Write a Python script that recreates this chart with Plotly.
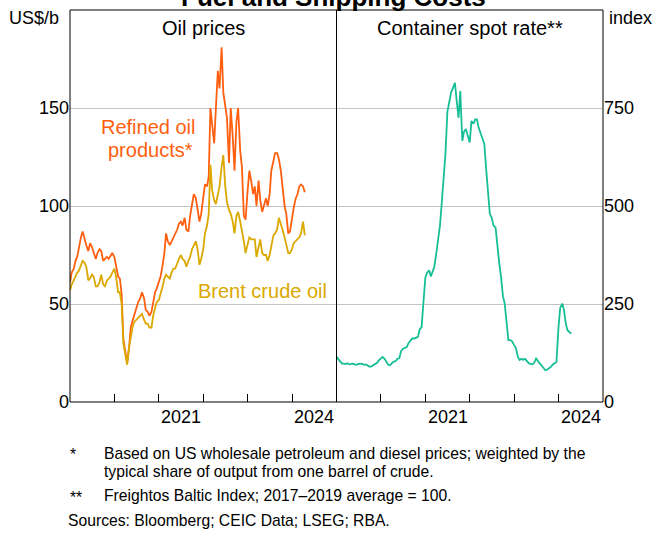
import plotly.graph_objects as go
import pandas as pd

# semi-monthly observation dates (1st and 15th of each month), Jan 2019 - Apr 2024
months = pd.date_range("2019-01-01", "2024-04-01", freq="MS")
dates = []
for m in months:
    dates.append(m)
    dates.append(m + pd.Timedelta(days=14))

refined = [
    # 2019
    61, 66, 68, 72, 74, 79, 84, 87, 83, 80, 77, 81, 79, 76, 73, 76, 78, 77, 72, 73, 74, 73, 75, 76,
    # 2020
    74, 70, 64, 63, 55, 32, 25, 20, 28, 38, 42, 45, 49, 51, 53, 56, 53, 47, 46, 44, 46, 51, 56, 58,
    # 2021
    62, 64, 70, 76, 86, 82, 80, 82, 84, 86, 88, 91, 92, 90, 94, 88, 87, 95, 102, 106, 104, 97, 92, 96,
    # 2022
    103, 111, 110, 115, 150, 140, 132, 150, 169, 160, 181, 158, 150, 145, 122, 150, 135, 118, 143, 150, 128, 120, 95, 93,
    # 2023
    108, 118, 112, 106, 110, 100, 113, 103, 97, 100, 104, 100, 106, 118, 123, 127, 127, 124, 118, 110, 100, 96, 86, 87,
    # 2024
    95, 99, 104, 106, 110, 111, 110, 107,
]

brent = [
    # 2019
    57, 60, 62, 64, 66, 67, 70, 72, 71, 69, 62, 63, 65, 64, 59, 59, 61, 65, 60, 59, 62, 63, 64, 66,
    # 2020
    68, 64, 56, 56, 50, 30, 24, 19, 28, 34, 39, 41, 42, 43, 44, 45, 42, 40, 40, 38, 38, 44, 48, 51,
    # 2021
    52, 55, 59, 63, 65, 64, 63, 66, 68, 68, 71, 73, 75, 73, 72, 69, 72, 74, 78, 80, 82, 78, 70, 73,
    # 2022
    78, 86, 90, 96, 121, 108, 103, 101, 106, 110, 120, 126, 110, 102, 98, 96, 92, 86, 95, 97, 92, 88, 82, 76,
    # 2023
    80, 84, 83, 83, 83, 74, 80, 83, 76, 75, 75, 72, 75, 80, 85, 86, 88, 94, 90, 88, 84, 80, 76, 76,
    # 2024
    78, 81, 82, 83, 84, 86, 92, 85,
]

container = [
    # 2019
    115, 110, 103, 98, 98, 97, 99, 96, 97, 98, 96, 95, 97, 98, 97, 95, 96, 93, 90, 91, 94, 96, 100, 106,
    # 2020
    112, 115, 110, 104, 95, 94, 100, 103, 104, 110, 112, 130, 136, 138, 140, 150, 158, 162, 162, 164, 166, 185, 191, 250,
    # 2021
    318, 330, 336, 320, 330, 344, 380, 412, 450, 505, 580, 632, 740, 768, 790, 800, 814, 770, 725, 793, 666, 690, 696, 680,
    # 2022
    662, 717, 710, 721, 721, 700, 683, 670, 658, 598, 531, 480, 470, 450, 446, 400, 353, 320, 270, 252, 200, 158, 158, 155,
    # 2023
    145, 138, 115, 107, 110, 108, 110, 104, 99, 97, 96, 100, 111, 105, 98, 94, 84, 81, 83, 86, 90, 96, 100, 102,
    # 2024
    191, 240, 251, 235, 200, 183, 178, 175,
]

year_ticks = ["2019-01-01", "2020-01-01", "2021-01-01", "2022-01-01", "2023-01-01", "2024-01-01"]
year_labels = ["2021", "2024"]
year_label_pos = ["2021-07-02", "2024-07-02"]
oil_ticks = [0, 50, 100, 150]
index_ticks = [0, 250, 500, 750]

C_REF = "#FF5F0F"
C_BRENT = "#DBA800"
C_CONT = "#16BE96"
FONT = "Liberation Sans, Arial, sans-serif"

fig = go.Figure()
fig.add_trace(go.Scatter(x=dates, y=refined, mode="lines", line=dict(color=C_REF, width=1.8),
                         xaxis="x", yaxis="y", showlegend=False))
fig.add_trace(go.Scatter(x=dates, y=brent, mode="lines", line=dict(color=C_BRENT, width=1.8),
                         xaxis="x", yaxis="y", showlegend=False))
fig.add_trace(go.Scatter(x=dates, y=container, mode="lines", line=dict(color=C_CONT, width=1.8),
                         xaxis="x2", yaxis="y2", showlegend=False))

xcommon = dict(type="date", range=["2019-01-01", "2025-01-01"], tickvals=year_ticks,
               ticks="inside", ticklen=8, tickcolor="black", tickwidth=1,
               showticklabels=False, showgrid=False, zeroline=False, showline=False)
fig.update_layout(
    width=667, height=534,
    margin=dict(l=70, r=64, t=10, b=132),
    paper_bgcolor="white", plot_bgcolor="white",
    font=dict(family=FONT, size=18, color="black"),
    xaxis=dict(domain=[0, 0.5], anchor="y", **xcommon),
    xaxis2=dict(domain=[0.5, 1], anchor="y2", **xcommon),
    yaxis=dict(range=[0, 200], tickvals=oil_ticks, showgrid=True, gridcolor="#C4C4C4",
               gridwidth=1, zeroline=False, showline=False, ticks="", anchor="x",
               tickfont=dict(size=18)),
    yaxis2=dict(range=[0, 1000], tickvals=index_ticks, showgrid=True, gridcolor="#C4C4C4",
                gridwidth=1, zeroline=False, showline=False, ticks="", anchor="x2", side="right",
                tickfont=dict(size=18)),
)

fig.add_shape(type="rect", xref="paper", yref="paper", x0=0, x1=1, y0=0, y1=1,
              line=dict(color="black", width=1), layer="above")
fig.add_shape(type="line", xref="paper", yref="paper", x0=0.5, x1=0.5, y0=0, y1=1,
              line=dict(color="black", width=1), layer="above")

ann = []
for lab, pos in zip(year_labels, year_label_pos):
    for xr in ["x", "x2"]:
        ann.append(dict(text=lab, x=pos, xref=xr, xanchor="center", y=0, yref="paper",
                        yanchor="top", yshift=-3, showarrow=False, font=dict(size=18)))

def py(p):
    return 1 + (10 - p) / 392.0

def px(p):
    return (p - 70) / 533.0

def txt(text, x, y, xanchor="center", size=18, color="black", bold=False):
    if bold:
        text = "<b>" + text + "</b>"
    return dict(text=text, x=px(x), xref="paper", xanchor=xanchor, y=py(y), yref="paper",
                yanchor="middle", showarrow=False, font=dict(size=size, color=color))

ann += [
    txt("Fuel and Shipping Costs", 333.5, -3, size=26, bold=True),
    txt("US$/b", 7, 18, xanchor="left"),
    txt("index", 607, 18, xanchor="left"),
    txt("Oil prices", 203.5, 28, size=20),
    txt("Container spot rate**", 470, 28, size=20),
    txt("Refined oil", 148, 127, size=20, color=C_REF),
    txt("products*", 150, 150, size=20, color=C_REF),
    txt("Brent crude oil", 262, 291, size=20, color=C_BRENT),
    txt("*", 68, 455, xanchor="left", size=15.7),
    txt("Based on US wholesale petroleum and diesel prices; weighted by the", 102, 453,
        xanchor="left", size=15.7),
    txt("typical share of output from one barrel of crude.", 102, 471, xanchor="left", size=15.7),
    txt("**", 68, 497, xanchor="left", size=15.7),
    txt("Freightos Baltic Index; 2017–2019 average = 100.", 102, 495, xanchor="left", size=15.7),
    txt("Sources: Bloomberg; CEIC Data; LSEG; RBA.", 66, 520, xanchor="left", size=15.7),
]
fig.update_layout(annotations=ann)

fig.write_html("out.html", config={"displayModeBar": False},
               post_script="document.body.style.margin='0';")
